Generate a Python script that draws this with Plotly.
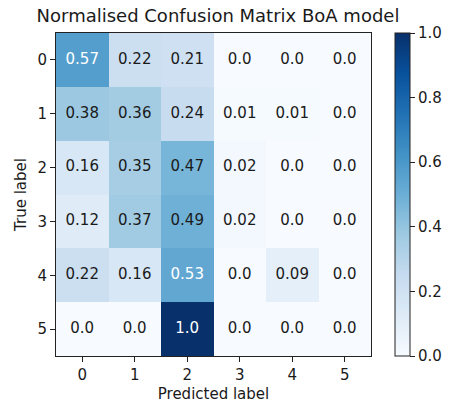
import plotly.graph_objects as go

# Class labels and normalised confusion matrix (rows: true label, cols: predicted label)
true_labels = ["0", "1", "2", "3", "4", "5"]
pred_labels = ["0", "1", "2", "3", "4", "5"]
row_0 = [0.57, 0.22, 0.21, 0.0, 0.0, 0.0]
row_1 = [0.38, 0.36, 0.24, 0.01, 0.01, 0.0]
row_2 = [0.16, 0.35, 0.47, 0.02, 0.0, 0.0]
row_3 = [0.12, 0.37, 0.49, 0.02, 0.0, 0.0]
row_4 = [0.22, 0.16, 0.53, 0.0, 0.09, 0.0]
row_5 = [0.0, 0.0, 1.0, 0.0, 0.0, 0.0]
matrix = [row_0, row_1, row_2, row_3, row_4, row_5]

# ColorBrewer "Blues" ramp, evenly spaced
blues = ["rgb(247,251,255)", "rgb(222,235,247)", "rgb(198,219,239)",
         "rgb(158,202,225)", "rgb(107,174,214)", "rgb(66,146,198)",
         "rgb(33,113,181)", "rgb(8,81,156)", "rgb(8,48,107)"]
colorscale = [[i / (len(blues) - 1), c] for i, c in enumerate(blues)]

FONT = "DejaVu Sans"
TXT = "#1a1a1a"
FS = 15

fig = go.Figure()
fig.add_trace(go.Heatmap(
    z=matrix, x=pred_labels, y=true_labels,
    zmin=0, zmax=1, colorscale=colorscale, xgap=0, ygap=0,
    hoverinfo="skip",
    colorbar=dict(
        x=349 / 324, xanchor="left", xref="paper",
        y=0.5, yanchor="middle", len=1, lenmode="fraction",
        thickness=15, xpad=0, ypad=0,
        outlinewidth=1, outlinecolor="#222",
        tickvals=[0, 0.2, 0.4, 0.6, 0.8, 1.0], tickformat=".1f",
        tickprefix=" ",
        ticks="outside", ticklen=5, tickwidth=1, tickcolor="#222",
        tickfont=dict(family=FONT, size=FS, color=TXT),
    ),
))

# Cell value labels: white on dark cells, black on light cells
thresh = 0.5
xs, ys, texts, colors = [], [], [], []
for i, row in enumerate(matrix):
    for j, v in enumerate(row):
        xs.append(pred_labels[j])
        ys.append(true_labels[i])
        texts.append(str(v))
        colors.append("white" if v > thresh else TXT)
fig.add_trace(go.Scatter(
    x=xs, y=ys, mode="text", text=texts,
    textfont=dict(family=FONT, size=FS, color=colors),
    hoverinfo="skip", showlegend=False,
))

axis_common = dict(
    showline=True, mirror=True, linecolor="#222", linewidth=1,
    ticks="outside", ticklen=5, tickwidth=1, tickcolor="#222",
    tickfont=dict(family=FONT, size=FS, color=TXT),
    showgrid=False, zeroline=False, automargin=False, fixedrange=True,
)

fig.update_layout(
    width=455, height=404,
    margin=dict(l=56, r=75, t=33, b=48),
    paper_bgcolor="white", plot_bgcolor="white",
    font=dict(family=FONT, color=TXT),
    showlegend=False,
    xaxis=dict(type="category", categoryorder="array", categoryarray=pred_labels,
               title=dict(text="Predicted label", font=dict(size=FS), standoff=5),
               **axis_common),
    yaxis=dict(type="category", categoryorder="array", categoryarray=true_labels,
               autorange="reversed",
               title=dict(text="True label", font=dict(size=FS), standoff=7),
               **axis_common),
    title=dict(text="Normalised Confusion Matrix BoA model",
               font=dict(family=FONT, size=18, color=TXT),
               x=218 / 455, xanchor="center", y=1 - 16 / 404, yanchor="middle"),
)

fig.write_html("out.html")
